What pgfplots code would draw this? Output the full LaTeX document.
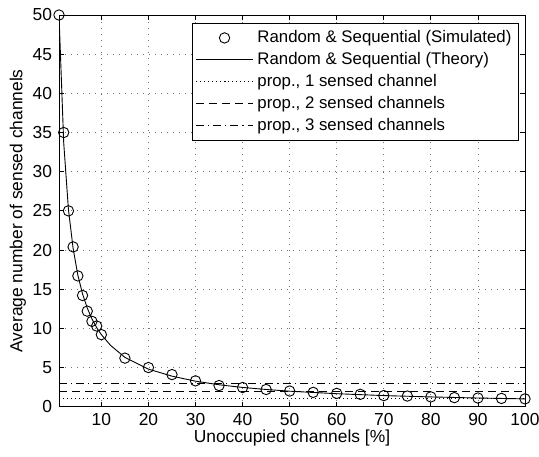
\documentclass[border=0pt]{standalone}
\usepackage{pgfplots}
\pgfplotsset{compat=1.18}
\usepackage{fontspec}
\setmainfont{Liberation Sans}

% simulated points
\pgfplotstableread{
x y
1 50.0
2 35.0
3 25.0
4 20.4
5 16.7
6 14.2
7 12.2
8 10.9
9 10.3
10 9.2
15 6.2
20 5.0
25 4.1
30 3.3
35 2.7
40 2.45
45 2.2
50 2.0
55 1.83
60 1.7
65 1.58
70 1.42
75 1.36
80 1.25
85 1.16
90 1.11
95 1.06
100 1.0
}\simdata

% theory curve
\pgfplotstableread{
x y
1 50.0
2 33.7
3 25.2
4 20.2
5 16.8
6 14.4
7 12.6
8 11.2
9 10.1
10 9.2
12 7.8
15 6.3
20 4.8
25 3.9
30 3.26
35 2.8
40 2.46
45 2.2
50 1.98
60 1.66
70 1.42
80 1.25
90 1.11
100 1.0
}\theorydata

\begin{document}
\begin{tikzpicture}[font=\fontsize{8.7}{10}\selectfont]
\path[use as bounding box] (-29.5pt,-24.65pt) rectangle (240pt,203.35pt);
\begin{axis}[
    scale only axis,
    width=233pt, height=195.85pt,
    xmin=1, xmax=100,
    ymin=0, ymax=50,
    xtick={10,20,...,100},
    ytick={0,5,...,50},
    tick align=inside,
    major tick length=2.5pt,
    tick style={black, line width=0.4pt},
    axis line style={line width=0.5pt},
    grid=major,
    grid style={black!55, line width=0.4pt, dash pattern=on 0.5pt off 2.5pt},
    /pgf/number format/assume math mode=true,
    xlabel={Unoccupied channels [\%]},
    ylabel={Average number of sensed channels},
    xlabel style={at={(axis description cs:0.5,-0.08)}, anchor=center},
    ylabel style={at={(axis description cs:-0.088,0.5)}, anchor=center, rotate=0},
    legend cell align=left,
    legend style={at={(rel axis cs:0.987,0.980)}, anchor=north east,
        draw=black, line width=0.5pt, inner sep=1.5pt,
        font=\fontsize{8.4}{10}\selectfont,
        row sep=-0.6pt,
        nodes={inner sep=2pt}},
    legend image code/.code={
        \draw[mark repeat=2, mark phase=2, #1]
            plot coordinates {(0cm,0cm) (0.5cm,0cm) (1cm,0cm)};},
]

\addplot[only marks, mark=o, mark size=2.6pt, black, line width=0.45pt] table {\simdata};
\addlegendentry{Random \& Sequential (Simulated)}

\addplot[black, line width=0.45pt, no marks] table {\theorydata};
\addlegendentry{Random \& Sequential (Theory)}

\addplot[black, line width=0.45pt, no marks, dash pattern=on 0.5pt off 1.5pt] coordinates {(1,1) (100,1)};
\addlegendentry{prop., 1 sensed channel}

\addplot[black, line width=0.45pt, no marks, dash pattern=on 4pt off 2.5pt] coordinates {(1,2) (100,2)};
\addlegendentry{prop., 2 sensed channels}

\addplot[black, line width=0.45pt, no marks, dash pattern=on 4pt off 2pt on 0.6pt off 2pt] coordinates {(1,3) (100,3)};
\addlegendentry{prop., 3 sensed channels}

\end{axis}
\end{tikzpicture}
\end{document}
